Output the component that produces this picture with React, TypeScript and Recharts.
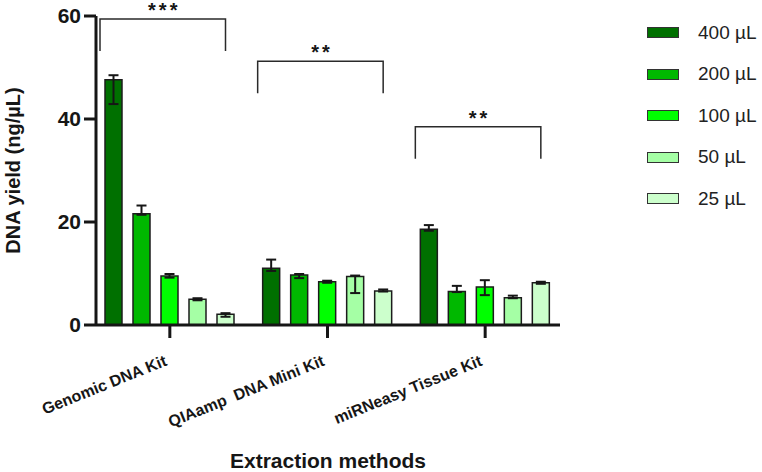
import { BarChart, Bar, XAxis, YAxis, ErrorBar, Legend, Rectangle } from 'recharts';

const methods = ['Genomic DNA Kit', 'QIAamp  DNA Mini Kit', 'miRNeasy Tissue Kit'];
const volumes = ['400 µL', '200 µL', '100 µL', '50 µL', '25 µL'];
const colors = ['#007000', '#00b800', '#00ff00', '#a5ffa5', '#ccffcc'];

// mean yield per method, one array per sample volume
const yield400 = [47.6, 11.0, 18.6];
const yield200 = [21.6, 9.7, 6.5];
const yield100 = [9.5, 8.4, 7.4];
const yield50 = [5.0, 9.4, 5.3];
const yield25 = [2.1, 6.6, 8.2];

// error whiskers as [below, above]
const err400 = [[4.7, 0.9], [0.5, 1.7], [0.3, 0.8]];
const err200 = [[0.2, 1.6], [0.6, 0.2], [0.1, 1.1]];
const err100 = [[0.3, 0.4], [0.2, 0.2], [1.6, 1.3]];
const err50 = [[0.2, 0.2], [3.2, 0.2], [0.1, 0.4]];
const err25 = [[0.5, 0.2], [0.1, 0.3], [0.2, 0.2]];

// significance brackets over each method
const stars = ['***', '**', '**'];
const bracketTops = [59.4, 51.2, 38.5];
const bracketDrop = 6.2;

const yTicks = [0, 20, 40, 60];

const BAR_GAP = 11;
const FONT = '"Liberation Sans", Arial, Helvetica, sans-serif';
const INK = '#161616';

const seriesValues = [yield400, yield200, yield100, yield50, yield25];
const seriesErrors = [err400, err200, err100, err50, err25];

const data = methods.map((method, i) => {
  const row: Record<string, any> = { method };
  seriesValues.forEach((vals, s) => {
    row[`v${s}`] = vals[i];
    row[`e${s}`] = seriesErrors[s][i];
  });
  return row;
});

// first bar of each group also carries the bracket + stars above the group
function BracketedBar(props: any) {
  const { x, y, width, height, payload } = props;
  const i = methods.indexOf(payload.method);
  const base = y + height;
  const perUnit = height / payload.v0;
  const top = base - bracketTops[i] * perUnit;
  const foot = base - (bracketTops[i] - bracketDrop) * perUnit;
  const left = x - 5;
  const right = x + 4 * (width + BAR_GAP) + width / 2;
  return (
    <g>
      <Rectangle {...props} />
      <path
        d={`M${left},${foot}V${top}H${right}V${foot}`}
        fill="none"
        stroke="#2a2a2a"
        strokeWidth={1.5}
      />
      <text
        x={(left + right) / 2 + 1.5}
        y={top - 2}
        textAnchor="middle"
        fontFamily={FONT}
        fontWeight="bold"
        fontSize={20}
        letterSpacing={3}
        fill={INK}
      >
        {stars[i]}
      </text>
    </g>
  );
}

function MethodTick({ x, y, payload }: any) {
  return (
    <g transform={`translate(${x - 2},${y + 25}) rotate(-22)`}>
      <text
        textAnchor="end"
        fontFamily={FONT}
        fontWeight="bold"
        fontSize={16}
        fill={INK}
        style={{ whiteSpace: 'pre' }}
      >
        {payload.value}
      </text>
    </g>
  );
}

// legend keeps the series order (largest volume first)
function VolumeLegend() {
  return (
    <div style={{ fontFamily: FONT, fontSize: 19, color: '#222' }}>
      {volumes.map((name, s) => (
        <div key={name} style={{ display: 'flex', alignItems: 'center', height: 41.5 }}>
          <span
            style={{
              display: 'inline-block',
              boxSizing: 'border-box',
              width: 32,
              height: 11,
              background: colors[s],
              border: '1.5px solid #333',
              marginRight: 19,
            }}
          />
          <span>{name}</span>
        </div>
      ))}
    </div>
  );
}

export default function App() {
  return (
    <div style={{ position: 'absolute', left: 0, top: 0, background: '#fff' }}>
      <BarChart
        width={762}
        height={472}
        data={data}
        margin={{ top: 16, right: 202, bottom: 0, left: 0 }}
        barGap={BAR_GAP}
        barCategoryGap={14}
      >
        <XAxis
          dataKey="method"
          height={147}
          padding={{ left: -5, right: -4 }}
          axisLine={{ stroke: INK, strokeWidth: 3 }}
          tickLine={{ stroke: INK, strokeWidth: 3 }}
          tickSize={13}
          tick={<MethodTick />}
          interval={0}
          label={{
            value: 'Extraction methods',
            position: 'insideBottom',
            offset: 4,
            fill: INK,
            fontFamily: FONT,
            fontWeight: 'bold',
            fontSize: 21,
          }}
        />
        <YAxis
          width={96}
          domain={[0, 60]}
          ticks={yTicks}
          axisLine={{ stroke: INK, strokeWidth: 3 }}
          tickLine={{ stroke: INK, strokeWidth: 3 }}
          tickSize={12}
          tickMargin={3}
          tick={{ fill: INK, fontFamily: FONT, fontWeight: 'bold', fontSize: 21 }}
          label={{
            value: 'DNA yield (ng/µL)',
            angle: -90,
            position: 'insideLeft',
            offset: 13,
            fill: INK,
            fontFamily: FONT,
            fontWeight: 'bold',
            fontSize: 20,
            style: { textAnchor: 'middle' },
          }}
        />
        <Legend
          layout="vertical"
          align="center"
          verticalAlign="middle"
          content={<VolumeLegend />}
          wrapperStyle={{ left: 647, top: 12, width: 115 }}
        />
        {volumes.map((name, s) => (
          <Bar
            key={name}
            dataKey={`v${s}`}
            name={name}
            fill={colors[s]}
            stroke="#1c1c1c"
            strokeWidth={1.5}
            shape={s === 0 ? <BracketedBar /> : undefined}
            isAnimationActive={false}
          >
            <ErrorBar
              dataKey={`e${s}`}
              direction="y"
              width={5}
              stroke={INK}
              strokeWidth={2}
            />
          </Bar>
        ))}
      </BarChart>
    </div>
  );
}
